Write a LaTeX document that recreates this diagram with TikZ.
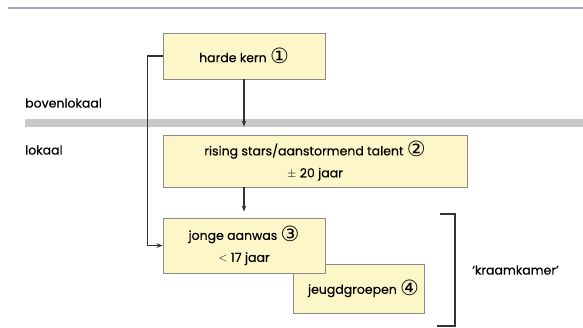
\documentclass[tikz,border=0pt]{standalone}
\usepackage{fontspec}
\setmainfont{Poppins}[FakeBold=0.4]
\newfontfamily\circfont{DejaVu Sans}
\usetikzlibrary{arrows.meta}
\newcommand{\nr}[1]{\raisebox{-1.5pt}{\circfont\fontsize{21}{21}\selectfont #1}}
\definecolor{boxfill}{HTML}{FDF6C8}
\definecolor{boxline}{HTML}{8A8A8A}
\definecolor{rulecol}{HTML}{9AAAC4}
\definecolor{bandcol}{HTML}{C8C8C8}
\definecolor{linecol}{HTML}{333333}
\begin{document}
\begin{tikzpicture}[x=1pt,y=-1pt,
    box/.style={draw=boxline,fill=boxfill,line width=0.9pt,align=center,inner sep=0pt,font=\fontsize{12.5}{22}\selectfont},
    lbl/.style={anchor=west,inner sep=0pt,font=\fontsize{12.5}{14}\selectfont},
    >={Stealth[length=6pt,width=4.5pt]}]
    \useasboundingbox (0,0) rectangle (583,328);
    \draw[rulecol,line width=1.5pt] (8,8) -- (583,8);
    \fill[bandcol] (25,119) rectangle (583,127);

    \node[lbl] (boven) at (25,103) {bovenlokaal};
    \node[lbl] (lok) at (25,150) {lokaal};

    \node[box,minimum width=131pt,minimum height=49pt] (J) at (358.5,288.5) {\hspace*{10pt}jeugdgroepen \nr{④}};
    \node[box,minimum width=162pt,minimum height=46pt] (H) at (244,56) {harde kern \nr{①}};
    \node[box,minimum width=304pt,minimum height=52pt] (R) at (315,161) {rising stars/aanstormend talent \nr{②}\\$\pm$ 20 jaar};
    \node[box,minimum width=162pt,minimum height=55pt] (A) at (244,245.5) {jonge aanwas \nr{③}\\$<$ 17 jaar};

    \node[lbl] (kraam) at (472,270) {‘kraamkamer’};
    \coordinate (kt) at (455,214);
    \coordinate (kb) at (455,326);

    \draw[linecol,line width=1.1pt,->,shorten >=8pt] (H) -- (H |- R.north);
    \draw[linecol,line width=1.1pt,->,shorten >=6pt] (R.south -| H) -- (A);
    \draw[linecol,line width=1.1pt,->] (H.west) -- ++(-15,0) |- (A.west);
    \draw[linecol,line width=1.1pt] ([xshift=-15pt]kt) -- (kt) -- (kb) -- ([xshift=-18pt]kb);
\end{tikzpicture}
\end{document}
